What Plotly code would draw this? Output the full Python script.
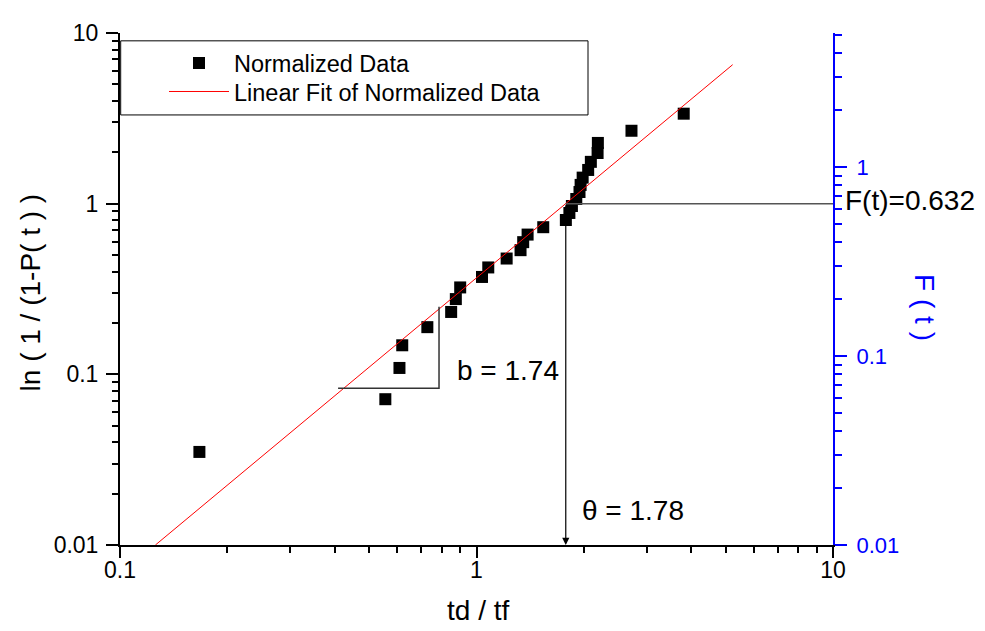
import math
import plotly.graph_objects as go

# ---------------- data ----------------
td_tf = [0.167, 0.555, 0.608, 0.619, 0.728, 0.849, 0.875, 0.900, 1.036, 1.079,
         1.215, 1.329, 1.352, 1.391, 1.539, 1.781, 1.822, 1.852, 1.905, 1.945,
         1.959, 1.985, 2.057, 2.093, 2.186, 2.190, 2.721, 3.813]
ln_inv = [0.0351, 0.0715, 0.109, 0.148, 0.189, 0.232, 0.276, 0.323, 0.372, 0.423,
          0.477, 0.534, 0.595, 0.659, 0.728, 0.802, 0.882, 0.969, 1.065, 1.170,
          1.288, 1.421, 1.576, 1.758, 1.981, 2.269, 2.674, 3.367]

fit_x = [0.1257, 5.23]
fit_y = [0.01, 6.52]

b_value = 1.74
theta_value = 1.78
f_value = 0.632

slope_tri_x = [0.409, 0.785, 0.785]
slope_tri_y = [0.0828, 0.0828, 0.249]

x_ticks = [0.1, 1, 10]
x_ticktext = ["0.1", "1", "10"]
y_ticks = [0.01, 0.1, 1, 10]
y_ticktext = ["0.01", "0.1", "1", "10"]
y2_ticks = [0.01, 0.1, 1]
y2_ticktext = ["0.01", "0.1", "1"]

FONT = "Liberation Sans, Arial, sans-serif"
BLUE = "#0000FF"


def minor_vals(lo_exp, hi_exp, upto=None):
    vals = []
    for e in range(lo_exp, hi_exp):
        for d in range(2, 10):
            v = d * 10 ** e
            if upto is None or v <= upto:
                vals.append(v)
    return vals


fig = go.Figure()

# data
fig.add_trace(go.Scatter(
    x=td_tf, y=ln_inv, mode="markers",
    marker=dict(symbol="square", size=12, color="black"),
    name="Normalized Data", legend="legend",
))
# fit line
fig.add_trace(go.Scatter(
    x=fit_x, y=fit_y, mode="lines",
    line=dict(color="#FF0000", width=1),
    name="Linear Fit of Normalized Data", legend="legend2",
))
# slope triangle
fig.add_trace(go.Scatter(
    x=slope_tri_x, y=slope_tri_y, mode="lines",
    line=dict(color="#333333", width=1.5), showlegend=False, hoverinfo="skip",
))
# horizontal F(t) line
fig.add_trace(go.Scatter(
    x=[theta_value, 10], y=[1, 1], mode="lines",
    line=dict(color="#555555", width=1.5), showlegend=False, hoverinfo="skip",
))
# invisible trace on secondary y axis
fig.add_trace(go.Scatter(
    x=[1], y=[0.1], yaxis="y2", mode="markers",
    marker=dict(opacity=0), showlegend=False, hoverinfo="skip",
))

# vertical arrow to theta
fig.add_annotation(
    x=math.log10(theta_value), y=-2, xref="x", yref="y",
    ax=math.log10(theta_value), ay=0, axref="x", ayref="y",
    showarrow=True, arrowhead=2, arrowsize=1.2, arrowwidth=1.2,
    arrowcolor="black", text="", standoff=0,
)

# page body has an 8px margin: draw the figure 8px smaller and shifted
OFF = 8
WIN_W, WIN_H = 985, 631
W, H = WIN_W - OFF, WIN_H - OFF
# plot area in window pixel coordinates
L, R, T, B = 120, 833, 22, 545


def px(xp):
    return (xp - L) / (R - L)


def py(yp):
    return (B - yp) / (B - T)


ann_font = dict(family=FONT, size=28, color="black")
fig.add_annotation(x=px(455), y=py(367), xref="paper", yref="paper",
                   text=f"b = {b_value}", showarrow=False, xanchor="left",
                   yanchor="middle", font=ann_font)
fig.add_annotation(x=px(580), y=py(510), xref="paper", yref="paper",
                   text=f"\u03b8 = {theta_value}", showarrow=False, xanchor="left",
                   yanchor="middle", font=ann_font)
fig.add_annotation(x=px(843), y=py(193), xref="paper", yref="paper",
                   text=f"F(t)={f_value}", showarrow=False, xanchor="left",
                   yanchor="middle", font=ann_font)
# axis titles
fig.add_annotation(x=px(478), y=py(612), xref="paper", yref="paper",
                   text="td / tf", showarrow=False, xanchor="center",
                   yanchor="middle", font=ann_font)
fig.add_annotation(x=px(30), y=py(287), xref="paper", yref="paper",
                   text="ln ( 1 / (1-P( t ) )", showarrow=False, textangle=-90,
                   xanchor="center", yanchor="middle", font=ann_font)
fig.add_annotation(x=px(925), y=py(302), xref="paper", yref="paper",
                   text="F ( t )", showarrow=False, textangle=90,
                   xanchor="center", yanchor="middle",
                   font=dict(family=FONT, size=28, color=BLUE))

# legend border
fig.add_shape(type="rect", xref="paper", yref="paper",
              x0=px(120.7), x1=px(588), y0=py(105.7), y1=py(30),
              line=dict(color="black", width=1), fillcolor="rgba(0,0,0,0)")

tickfont = dict(family=FONT, size=23, color="black")
legfont = dict(family=FONT, size=23.5, color="black")

fig.update_layout(
    width=W, height=H,
    margin=dict(l=L - OFF, r=W - (R - OFF), t=T - OFF, b=H - (B - OFF), pad=0),
    paper_bgcolor="white", plot_bgcolor="white",
    showlegend=True,
    legend=dict(
        x=px(164), y=py(30.5), xanchor="left", yanchor="top",
        bgcolor="rgba(0,0,0,0)", borderwidth=0, font=legfont, itemwidth=60,
    ),
    legend2=dict(
        x=px(164), y=py(59.5), xanchor="left", yanchor="top",
        bgcolor="rgba(0,0,0,0)", borderwidth=0, font=legfont, itemwidth=60,
    ),
    xaxis=dict(
        type="log", range=[-1, 1], showgrid=False, zeroline=False,
        showline=True, linecolor="black", linewidth=2,
        ticks="outside", ticklen=11, tickwidth=1.5, tickcolor="black",
        tickvals=x_ticks, ticktext=x_ticktext, tickfont=tickfont,
        ticklabelstandoff=-8,
        minor=dict(tickvals=minor_vals(-1, 1), ticks="outside", ticklen=6,
                   tickwidth=1.5, tickcolor="black", showgrid=False),
    ),
    xaxis2=dict(
        type="log", range=[-1, 1], overlaying="x", side="top",
        showgrid=False, zeroline=False, showline=True, linecolor="black",
        linewidth=2, ticks="inside", ticklen=7, tickwidth=1.5, tickcolor="black",
        tickvals=x_ticks, showticklabels=False,
        minor=dict(tickvals=minor_vals(-1, 1), ticks="inside", ticklen=6,
                   tickwidth=1.5, tickcolor="black", showgrid=False),
    ),
    yaxis=dict(
        type="log", range=[-2, 1], showgrid=False, zeroline=False,
        showline=True, linecolor="black", linewidth=2,
        ticks="outside", ticklen=12, tickwidth=1.5, tickcolor="black",
        tickvals=y_ticks, ticktext=y_ticktext, tickfont=tickfont,
        ticklabelstandoff=3,
        minor=dict(tickvals=minor_vals(-2, 1), ticks="outside", ticklen=6,
                   tickwidth=1.5, tickcolor="black", showgrid=False),
    ),
    yaxis2=dict(
        type="log", range=[-2, 0.71], overlaying="y", side="right",
        showgrid=False, zeroline=False, showline=True, linecolor=BLUE,
        linewidth=2, ticks="outside", ticklen=12, tickwidth=1.5, tickcolor=BLUE,
        tickvals=y2_ticks, ticktext=y2_ticktext,
        tickfont=dict(family=FONT, size=22, color=BLUE),
        ticklabelstandoff=5,
        minor=dict(tickvals=minor_vals(-2, 1, upto=5), ticks="outside", ticklen=7,
                   tickwidth=1.5, tickcolor=BLUE, showgrid=False),
    ),
)

fig.write_html("out.html")
